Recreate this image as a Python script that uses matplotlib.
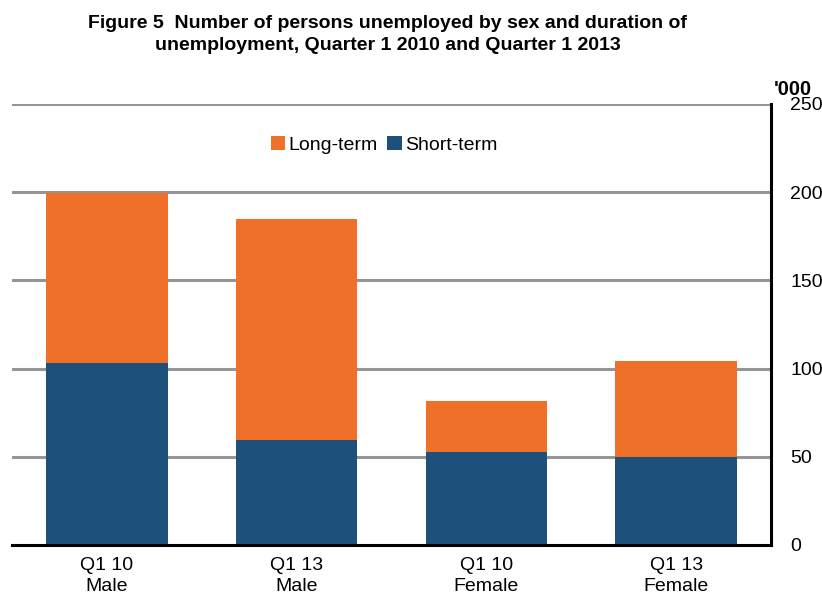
import matplotlib.pyplot as plt
import numpy as np

# Data ('000 persons)
categories = ['Q1 10\nMale', 'Q1 13\nMale', 'Q1 10\nFemale', 'Q1 13\nFemale']
short_term = [103.3, 59.5, 52.9, 49.7]
long_term = [96.5, 125.1, 28.9, 54.6]

orange = '#EE7029'
blue = '#1E507C'
grid_gray = '#959595'

plt.rcParams['font.family'] = ['Liberation Sans', 'DejaVu Sans']

fig = plt.figure(figsize=(8.22, 6.01), dpi=100)
ax = fig.add_axes([0.0146, 0.0932, 0.9234, 0.7338])

x = np.arange(len(categories))
width = 0.64
ax.bar(x, short_term, width, color=blue, label='Short-term', zorder=3)
ax.bar(x, long_term, width, bottom=short_term, color=orange, label='Long-term', zorder=3)

ax.set_xlim(-0.5, len(categories) - 0.5)
ax.set_ylim(0, 250)
ax.set_yticks(np.arange(0, 251, 50))
ax.yaxis.tick_right()
ax.tick_params(axis='y', length=0, pad=14, labelsize=14)
ax.tick_params(axis='x', length=0, pad=9, labelsize=14)
ax.set_xticks(x)
ax.set_xticklabels(categories, linespacing=1.3)

ax.yaxis.grid(True, color=grid_gray, linewidth=2.2, zorder=0)
ax.set_axisbelow(True)
for s in ['top', 'left']:
    ax.spines[s].set_visible(False)
ax.spines['right'].set_linewidth(2.2)
ax.spines['bottom'].set_linewidth(2.2)
ax.spines['right'].set_zorder(4)
ax.spines['bottom'].set_zorder(4)

handles, labels = ax.get_legend_handles_labels()
ax.legend(handles[::-1], labels[::-1], loc='upper center', bbox_to_anchor=(0.49, 0.945),
          ncol=2, frameon=False, fontsize=14, handlelength=0.75, handleheight=0.75,
          handletextpad=0.15, columnspacing=0.5, borderaxespad=0)

fig.text(0.472, 0.975, 'Figure 5  Number of persons unemployed by sex and duration of\n'
         'unemployment, Quarter 1 2010 and Quarter 1 2013',
         ha='center', va='top', fontsize=14, fontweight='bold', linespacing=1.35)
fig.text(0.965, 0.851, "'000", ha='center', va='center', fontsize=14.5, fontweight='bold')

fig.savefig('out.png', dpi=100, facecolor='white')
